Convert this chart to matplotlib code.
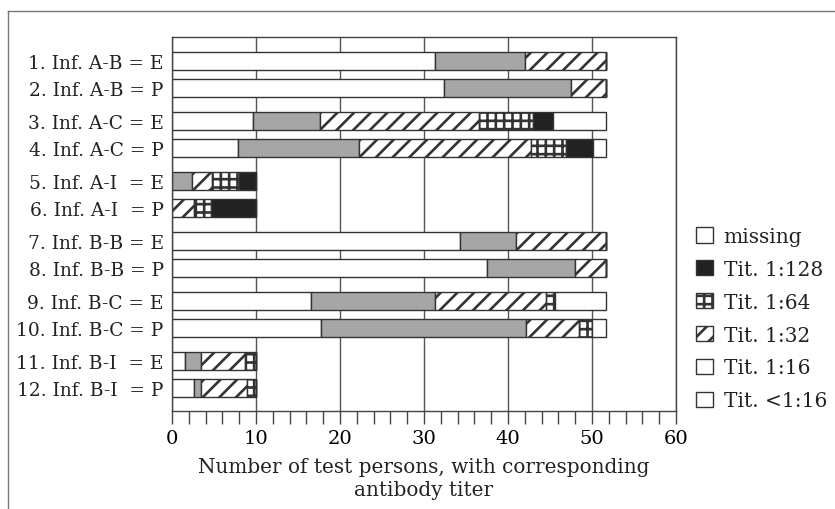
import numpy as np
import matplotlib
matplotlib.use('Agg')
import matplotlib.pyplot as plt
from matplotlib.patches import Patch
from matplotlib.lines import Line2D


# rows, top to bottom
row_labels = [
    '1. Inf. A-B = E', '2. Inf. A-B = P',
    '3. Inf. A-C = E', '4. Inf. A-C = P',
    '5. Inf. A-I  = E', '6. Inf. A-I  = P',
    '7. Inf. B-B = E', '8. Inf. B-B = P',
    '9. Inf. B-C = E', '10. Inf. B-C = P',
    '11. Inf. B-I  = E', '12. Inf. B-I  = P',
]

# number of test persons per titer class
tit_below16 = [31.3, 32.4, 9.6, 7.9, 0.0, 0.0, 34.3, 37.5, 16.5, 17.7, 1.6, 2.6]
tit_16 = [10.7, 15.1, 8.0, 14.4, 2.4, 0.0, 6.6, 10.5, 14.8, 24.4, 1.8, 0.8]
tit_32 = [9.7, 4.2, 19.0, 20.4, 2.4, 2.6, 10.8, 3.7, 13.2, 6.3, 5.3, 5.5]
tit_64 = [0.0, 0.0, 6.4, 4.2, 3.2, 2.1, 0.0, 0.0, 1.1, 1.6, 1.3, 1.1]
tit_128 = [0.0, 0.0, 2.4, 3.2, 2.0, 5.3, 0.0, 0.0, 0.0, 0.0, 0.0, 0.0]
missing = [0.0, 0.0, 6.3, 1.6, 0.0, 0.0, 0.0, 0.0, 6.1, 1.7, 0.0, 0.0]

series = [tit_below16, tit_16, tit_32, tit_64, tit_128, missing]
series_names = ['Tit. <1:16', 'Tit. 1:16', 'Tit. 1:32', 'Tit. 1:64',
                'Tit. 1:128', 'missing']

FILLS = ['white', '#a6a6a6', 'white', 'white', '#222222', 'white']
HATCHES = [None, None, '//', '++', None, None]
EDGE = '#333333'

plt.rcParams['font.family'] = ['DejaVu Serif']
plt.rcParams['hatch.linewidth'] = 1.9

fig = plt.figure(figsize=(8.35, 5.10), dpi=100)
ax = fig.add_axes([0.206, 0.192, 0.6036, 0.7335])

# pairs of bars, small gap inside a pair, larger between pairs
ypos = np.array([(i // 2) * 3.0 + (i % 2) * 1.35 for i in range(len(row_labels))])

left = np.zeros(len(row_labels))
for vals, fc, h in zip(series, FILLS, HATCHES):
    vals = np.array(vals)
    ax.barh(ypos, vals, left=left, height=0.88, color=fc, hatch=h,
            edgecolor=EDGE, linewidth=1.0, zorder=2)
    left += vals

ax.set_xlim(0, 60)
ax.set_ylim(17.5, -1.2)
ax.set_xticks(np.arange(0, 61, 10))
ax.set_xticks(np.arange(0, 61, 2), minor=True)
ax.set_yticks(ypos)
ax.set_yticklabels(row_labels, fontsize=13.4, color='#222222')
ax.tick_params(axis='y', length=0, pad=6)
ax.tick_params(axis='x', which='both', direction='out', length=9,
               width=1, color='#444444', labelsize=14, pad=4)
ax.grid(axis='x', color='#555555', linewidth=1.0, zorder=0)
ax.set_axisbelow(True)
for sp in ax.spines.values():
    sp.set_color('#444444')
    sp.set_linewidth(1.0)

ax.set_xlabel('Number of test persons, with corresponding\nantibody titer',
              fontsize=14.4, color='#222222', labelpad=7, linespacing=1.25)

# legend, top to bottom as in the figure
handles = []
for i in [5, 4, 3, 2, 1, 0]:
    fc = FILLS[i] if i != 1 else 'white'
    handles.append(Patch(facecolor=fc, hatch=HATCHES[i], edgecolor=EDGE,
                         linewidth=1.0, label=series_names[i]))
fig.legend(handles=handles, loc='upper left', bbox_to_anchor=(0.822, 0.573),
           frameon=False, fontsize=14.5, handlelength=0.8, handleheight=0.8,
           handletextpad=0.55, labelspacing=0.69, borderpad=0,
           labelcolor='#222222')

# scanned page border
fig.add_artist(Line2D([8 / 835, 1.0], [1 - 12 / 510, 1 - 12 / 510],
                      transform=fig.transFigure, color='#777777', lw=1.0))
fig.add_artist(Line2D([8 / 835, 8 / 835], [0.0, 1 - 12 / 510],
                      transform=fig.transFigure, color='#777777', lw=1.0))

fig.savefig('out.png', dpi=100)
